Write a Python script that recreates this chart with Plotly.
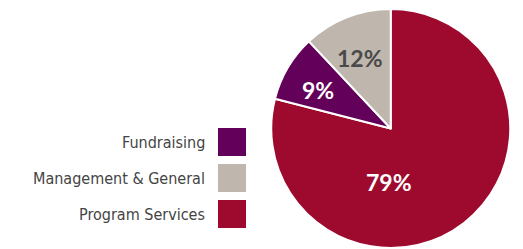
import plotly.graph_objects as go

categories = ["Program Services", "Fundraising", "Management & General"]
values = [79, 9, 12]
colors = ["#9E0A2E", "#62005A", "#BFB7AD"]
text_colors = ["white", "white", "#4A4A4A"]

legend_order = ["Fundraising", "Management & General", "Program Services"]

W, H = 523, 249

fig = go.Figure()
fig.add_trace(go.Pie(
    labels=categories,
    values=values,
    sort=False,
    direction="clockwise",
    rotation=0,
    marker=dict(colors=colors, line=dict(color="white", width=2)),
    textposition="none",
    domain=dict(x=[271 / W, 510.5 / W], y=[1 / H, 240 / H]),
    showlegend=False,
    hoverinfo="skip",
))

shapes = []
annotations = []
y0 = 128
step = 36
sw = 28
for i, name in enumerate(legend_order):
    top = y0 + i * step
    c = colors[categories.index(name)]
    shapes.append(dict(type="rect", xref="paper", yref="paper",
                       x0=218 / W, x1=(218 + sw) / W,
                       y0=1 - (top + sw) / H, y1=1 - top / H,
                       fillcolor=c, line=dict(width=0)))
    annotations.append(dict(text=name, xref="paper", yref="paper",
                            x=207 / W, y=1 - (top + sw / 2) / H,
                            xanchor="right", yanchor="middle", showarrow=False,
                            font=dict(family="DejaVu Sans Condensed", size=16, color="#444444")))

# percentage labels placed as in the original
label_pos = {"Program Services": (389, 182),
             "Fundraising": (318, 90),
             "Management & General": (360, 58)}
for name, v, tc in zip(categories, values, text_colors):
    px, py = label_pos[name]
    annotations.append(dict(text=f"{v}%", xref="paper", yref="paper",
                            x=px / W, y=1 - py / H, xanchor="center", yanchor="middle",
                            showarrow=False,
                            font=dict(family="Lato", size=23, color=tc, weight="bold")))

fig.update_layout(
    width=W, height=H,
    margin=dict(l=0, r=0, t=0, b=0),
    paper_bgcolor="white", plot_bgcolor="white",
    shapes=shapes, annotations=annotations,
)

fig.write_html("out.html", config={"displayModeBar": False},
               post_script="document.body.style.margin='0';")
